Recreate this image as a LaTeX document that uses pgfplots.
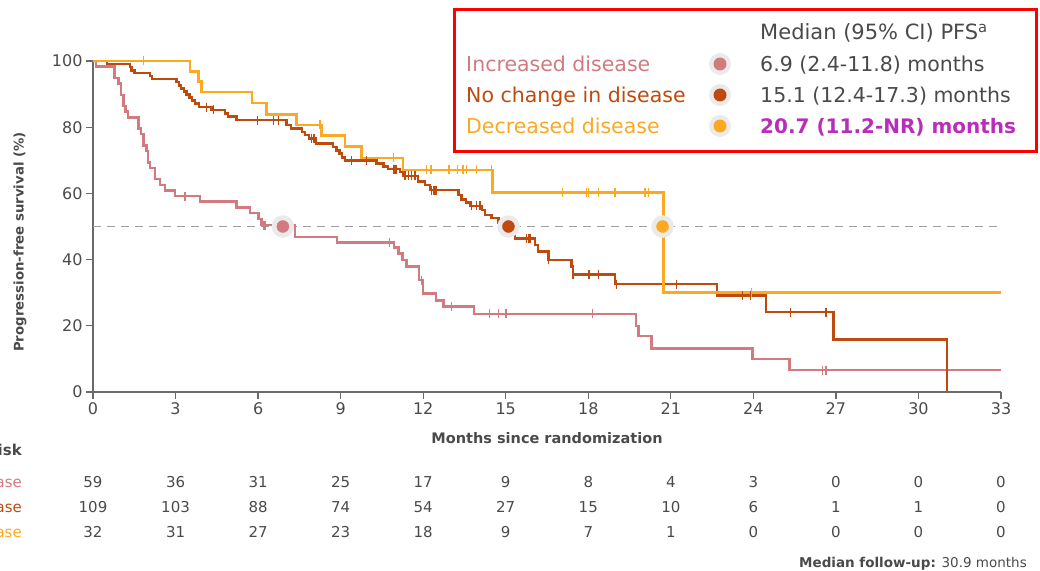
\documentclass[border=0pt]{standalone}
\usepackage{pgfplots}
\pgfplotsset{compat=1.18}
\usepackage{fontspec}
\setmainfont{DejaVu Sans}
\definecolor{pinkc}{HTML}{D27A80}
\definecolor{brownc}{HTML}{BE4A0E}
\definecolor{yelc}{HTML}{FBA922}
\definecolor{magc}{HTML}{B92EB9}
\definecolor{txt}{HTML}{4A4A4A}
\definecolor{axc}{HTML}{6A6A6A}
\definecolor{halo}{HTML}{EAEAEA}
\newcommand{\fs}[1]{\fontsize{#1}{#1}\selectfont}

\pgfplotstableread{
t s
0 100
0.1 98.3
0.78 94.9
0.92 93.2
1.02 89.8
1.1 86.4
1.19 84.7
1.28 83.0
1.65 79.6
1.75 77.9
1.83 74.5
1.95 72.8
2.0 69.4
2.07 67.7
2.25 64.3
2.43 62.6
2.62 60.9
2.98 59.2
3.89 57.5
5.22 55.8
5.71 54.1
6.01 52.2
6.13 50.4
7.34 46.9
8.86 45.1
10.94 43.6
11.1 41.9
11.25 39.9
11.4 37.9
11.85 33.8
12.0 29.8
12.47 27.6
12.73 25.8
13.85 23.6
19.73 19.9
19.82 16.9
20.3 13.2
23.97 9.9
25.31 6.6
33 6.6
}\incr

\pgfplotstableread{
t s
3.34 59.2
6.19 50.4
6.25 50.4
10.77 45.1
11.94 33.8
13.04 25.8
14.41 23.6
14.73 23.6
15.01 23.6
18.16 23.6
26.52 6.6
26.64 6.6
}\incrc

\pgfplotstableread{
t s
0 100
0.5 99.1
1.34 98.2
1.4 97.2
1.5 96.3
2.07 95.4
2.15 94.5
3.04 93.6
3.12 92.6
3.2 91.7
3.3 90.8
3.4 89.9
3.5 88.9
3.6 88.0
3.7 87.1
3.85 86.1
4.3 85.2
4.8 84.2
4.9 83.3
5.22 82.1
7.04 80.7
7.2 79.6
7.6 78.6
7.7 77.6
7.85 76.6
8.1 75.1
8.73 74.0
8.85 73.0
8.95 72.0
9.05 70.9
9.16 69.9
10.31 69.0
10.55 68.1
10.73 67.3
11.16 66.4
11.28 65.3
11.82 63.6
12.07 62.5
12.25 61.0
13.28 59.5
13.4 58.2
13.55 57.2
13.7 56.2
14.13 55.0
14.25 53.5
14.49 52.5
14.73 51.0
15.13 49.5
15.34 46.4
16.06 44.4
16.18 42.4
16.55 39.9
17.39 37.9
17.45 35.5
18.97 32.6
22.67 29.1
24.46 24.1
26.91 15.9
31.03 0
}\nochg

\pgfplotstableread{
t s
4.13 86.1
4.37 85.2
5.97 82.1
6.55 82.1
6.73 82.1
7.95 76.6
8.03 76.6
9.4 69.9
9.95 69.9
10.91 67.3
10.98 67.3
11.04 67.3
11.34 65.3
11.46 65.3
11.58 65.3
11.7 65.3
12.31 61.0
12.37 61.0
12.43 61.0
12.49 61.0
13.76 56.2
13.94 56.2
14.07 56.2
15.76 46.4
15.82 46.4
15.88 46.4
16.55 39.9
17.45 35.5
18.0 35.5
18.04 35.5
18.37 35.5
19.03 32.6
21.21 32.6
23.61 29.1
23.9 29.1
25.36 24.1
26.64 24.1
}\nochgc

\pgfplotstableread{
t s
0 100
3.53 96.9
3.83 93.8
3.95 90.6
5.77 87.3
6.31 83.9
7.4 80.7
8.31 77.5
9.16 74.1
9.76 70.7
11.27 67.1
14.51 60.2
20.73 30.1
33 30.1
}\decr

\pgfplotstableread{
t s
1.83 100
8.25 80.7
10.91 70.7
12.13 67.1
12.28 67.1
12.94 67.1
13.25 67.1
13.45 67.1
13.57 67.1
13.94 67.1
14.47 67.1
17.07 60.2
17.94 60.2
18.0 60.2
18.37 60.2
18.97 60.2
20.06 60.2
20.18 60.2
23.94 30.1
}\decrc

\begin{document}
\begin{tikzpicture}
\useasboundingbox (-93pt,-178pt) rectangle (947pt,392pt);
\begin{axis}[
  at={(0pt,0pt)}, anchor=south west,
  scale only axis, width=908pt, height=331pt,
  xmin=0, xmax=33, ymin=0, ymax=100,
  axis lines=left,
  axis line style={-, draw=axc, line width=1.4pt},
  xtick={0,3,...,33}, ytick={0,20,...,100},
  tick align=outside, major tick length=7pt,
  tick style={draw=axc, line width=1.2pt},
  ticklabel style={font=\fs{16}, text=txt},
  /pgf/number format/assume math mode=true,
  clip=false,
]
\addplot[draw=black!38, line width=1.4pt, dash pattern=on 8pt off 6pt] coordinates {(0,50) (33,50)};
\addplot[const plot, draw=pinkc, line width=2.5pt] table[x=t,y=s] {\incr};
\addplot[only marks, color=pinkc, mark=|, mark size=4.5pt, mark options={line width=1.3pt}] table[x=t,y=s] {\incrc};
\addplot[const plot, draw=brownc, line width=2.5pt] table[x=t,y=s] {\nochg};
\addplot[only marks, color=brownc, mark=|, mark size=4.5pt, mark options={line width=1.3pt}] table[x=t,y=s] {\nochgc};
\addplot[const plot, draw=yelc, line width=2.5pt] table[x=t,y=s] {\decr};
\addplot[only marks, color=yelc, mark=|, mark size=4.5pt, mark options={line width=1.3pt}] table[x=t,y=s] {\decrc};
\addplot[only marks, color=halo, mark=*, mark size=11pt, mark options={draw=halo, fill=halo}] coordinates {(6.9,50) (15.1,50) (20.7,50)};
\addplot[only marks, color=pinkc, mark=*, mark size=6pt, mark options={draw=pinkc, fill=pinkc}] coordinates {(6.9,50)};
\addplot[only marks, color=brownc, mark=*, mark size=6pt, mark options={draw=brownc, fill=brownc}] coordinates {(15.1,50)};
\addplot[only marks, color=yelc, mark=*, mark size=6pt, mark options={draw=yelc, fill=yelc}] coordinates {(20.7,50)};
\end{axis}
% axis titles
\node[anchor=base, font=\bfseries\fs{14.5}, text=txt] at (454pt,-51pt) {Months since randomization};
\node[rotate=90, font=\bfseries\fs{13.3}, text=txt] at (-73pt,150pt) {Progression-free survival (\%)};
% legend box
\draw[red, line width=3pt] (361pt,240pt) rectangle (943pt,382pt);
\node[anchor=base west, inner sep=0pt, text=txt, font=\fs{21}] at (667pt,352pt) {Median (95\% CI) PFS\textsuperscript{a}};
\node[anchor=base west, inner sep=0pt, text=pinkc, font=\fs{20.5}] at (373pt,320pt) {Increased disease};
\node[anchor=base west, inner sep=0pt, text=brownc, font=\fs{20.5}] at (373pt,289pt) {No change in disease};
\node[anchor=base west, inner sep=0pt, text=yelc, font=\fs{20.5}] at (373pt,258pt) {Decreased disease};
\node[anchor=base west, inner sep=0pt, text=txt, font=\fs{20.5}] at (667pt,320pt) {6.9 (2.4-11.8) months};
\node[anchor=base west, inner sep=0pt, text=txt, font=\fs{20.5}] at (667pt,289pt) {15.1 (12.4-17.3) months};
\node[anchor=base west, inner sep=0pt, text=magc, font=\bfseries\fs{20}] at (667pt,258pt) {20.7 (11.2-NR) months};
\foreach \yy/\cc in {328/pinkc, 297/brownc, 266/yelc}{
  \fill[halo] (627pt,\yy pt) circle (11pt);
  \fill[\cc] (627pt,\yy pt) circle (6.5pt);
}
% at risk table
\node[anchor=base east, inner sep=0pt, font=\bfseries\fs{15}, text=txt] at (-71pt,-63pt) {Number at risk};
\node[anchor=base east, inner sep=0pt, font=\fs{15}, text=pinkc] at (-71pt,-95pt) {Increased disease};
\node[anchor=base east, inner sep=0pt, font=\fs{15}, text=brownc] at (-71pt,-120pt) {No change in disease};
\node[anchor=base east, inner sep=0pt, font=\fs{15}, text=yelc] at (-71pt,-145pt) {Decreased disease};
\foreach \n [count=\i from 0] in {59,36,31,25,17,9,8,4,3,0,0,0}
  \node[anchor=base, inner sep=0pt, font=\fs{15}, text=txt] at ({\i*82.545pt},-95pt) {\n};
\foreach \n [count=\i from 0] in {109,103,88,74,54,27,15,10,6,1,1,0}
  \node[anchor=base, inner sep=0pt, font=\fs{15}, text=txt] at ({\i*82.545pt},-120pt) {\n};
\foreach \n [count=\i from 0] in {32,31,27,23,18,9,7,1,0,0,0,0}
  \node[anchor=base, inner sep=0pt, font=\fs{15}, text=txt] at ({\i*82.545pt},-145pt) {\n};
\node[anchor=base east, inner sep=0pt, font=\fs{13.5}, text=txt] at (934pt,-175pt) {\textbf{Median follow-up:} 30.9 months};
\end{tikzpicture}
\end{document}
